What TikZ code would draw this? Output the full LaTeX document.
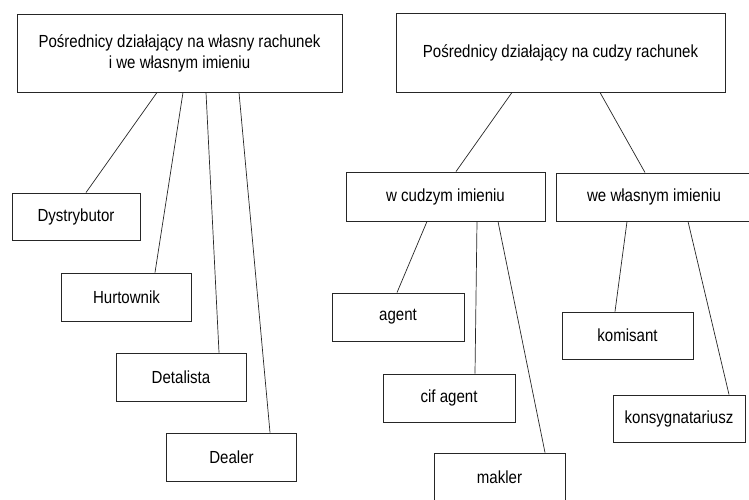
\documentclass[tikz,border=0pt]{standalone}
\usepackage{fontspec}
\setmainfont[FakeStretch=0.86]{Liberation Sans}
\usepackage{tikz}
\usetikzlibrary{positioning,calc}

\tikzset{
    ramka/.style={draw=black!85, line width=0.9pt, inner sep=0pt, align=center,
        font=\fontsize{17.5}{21}\selectfont},
    lisc/.style={ramka, minimum width=130pt, minimum height=48pt},
    galaz/.style={draw=black!85, line width=0.7pt}
}

\begin{document}
\begin{tikzpicture}[x=1pt,y=-1pt]
    \useasboundingbox (0,0) rectangle (749,500);

    % Top boxes
    \node[ramka, minimum width=325pt, minimum height=78pt] (wlasny) at (179.5,53)
        {Pośrednicy działający na własny rachunek\\i we własnym imieniu};
    \node[ramka, minimum width=329pt, minimum height=79pt] (cudzy) at (560.5,52.5)
        {Pośrednicy działający na cudzy rachunek};

    % Left branch
    \node[lisc, minimum width=128pt, minimum height=47pt] (dystr) at (76,216.5) {Dystrybutor};
    \node[lisc] (hurt) at (126.5,297) {Hurtownik};
    \node[lisc] (detal) at (181,377) {Detalista};
    \node[lisc] (dealer) at (231.5,457) {Dealer};

    \draw[galaz] ([xshift=-22.5pt]wlasny.south) -- ([xshift=10pt]dystr.north);
    \draw[galaz] ([xshift=3.5pt]wlasny.south) -- ([xshift=28.5pt]hurt.north);
    \draw[galaz] ([xshift=26.5pt]wlasny.south) -- ([xshift=38pt]detal.north);
    \draw[galaz] ([xshift=59.5pt]wlasny.south) -- ([xshift=38.5pt]dealer.north);

    % Right branch, second level
    \node[lisc, minimum width=199pt, minimum height=49pt] (wcudzym) at (445.5,196.5) {w cudzym imieniu};
    \node[lisc, minimum width=196pt, minimum height=48pt] (wwlasnym) at (654,197) {we własnym imieniu};

    \draw[galaz] ([xshift=-48.5pt]cudzy.south) -- ([xshift=10.5pt]wcudzym.north);
    \draw[galaz] ([xshift=39.5pt]cudzy.south) -- ([xshift=-9pt]wwlasnym.north);

    % Right branch, third level
    \node[lisc, minimum width=132pt] (agent) at (398,317) {agent};
    \node[lisc, minimum width=132pt] (cif) at (449,398) {cif agent};
    \node[lisc, minimum width=131pt] (makler) at (499.5,477) {makler};
    \node[lisc, minimum width=131pt, minimum height=47pt] (komis) at (627.5,335.5) {komisant};
    \node[lisc, minimum width=132pt, minimum height=47pt] (konsyg) at (679,418.5) {konsygnatariusz};

    \draw[galaz] ([xshift=-18.5pt]wcudzym.south) -- ([xshift=-1pt]agent.north);
    \draw[galaz] ([xshift=31.5pt]wcudzym.south) -- ([xshift=26pt]cif.north);
    \draw[galaz] ([xshift=52.5pt]wcudzym.south) -- ([xshift=45.5pt]makler.north);
    \draw[galaz] ([xshift=-27pt]wwlasnym.south) -- ([xshift=-12.5pt]komis.north);
    \draw[galaz] ([xshift=34pt]wwlasnym.south) -- ([xshift=50pt]konsyg.north);

\end{tikzpicture}
\end{document}
